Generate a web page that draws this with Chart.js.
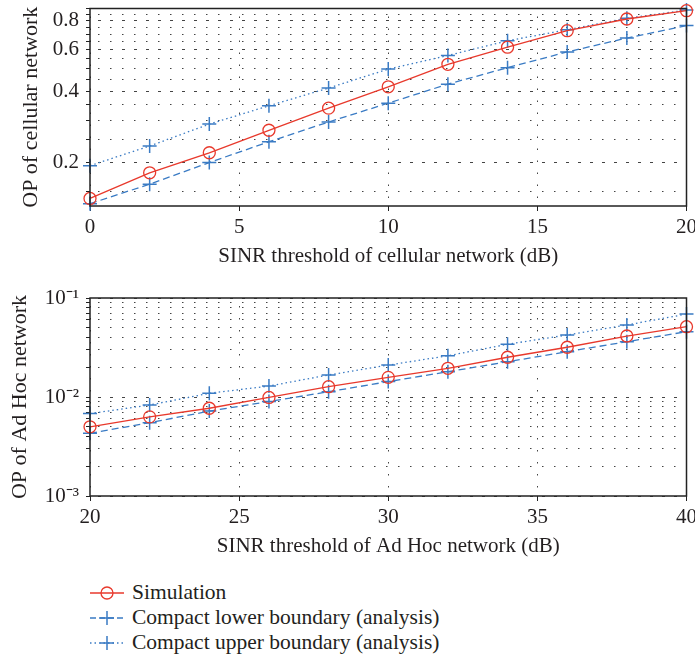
<!DOCTYPE html>
<html>
<head>
<meta charset="utf-8">
<script src="https://cdn.jsdelivr.net/npm/chart.js@4.4.1/dist/chart.umd.min.js"></script>
<style>
  body { margin: 0; background: #fff; width: 695px; height: 657px; position: relative; overflow: hidden; }
  canvas { position: absolute; left: 0; }
  #legend { position: absolute; left: 90px; top: 580px; font-family: "Liberation Serif", "DejaVu Serif", serif; font-size: 21.5px; color: #231f20; }
  .row { height: 25px; display: flex; align-items: center; }
  .row svg { margin-right: 8px; }
</style>
</head>
<body>
<canvas id="topChart"></canvas>
<canvas id="bottomChart"></canvas>
<div id="legend"></div>

<script>
// data
const cellX = [0, 2, 4, 6, 8, 10, 12, 14, 16, 18, 20];
const cellSim = [0.140, 0.180, 0.219, 0.273, 0.339, 0.418, 0.521, 0.616, 0.724, 0.812, 0.881];
const cellLower = [0.133, 0.161, 0.199, 0.244, 0.296, 0.356, 0.429, 0.504, 0.588, 0.674, 0.761];
const cellUpper = [0.193, 0.234, 0.290, 0.347, 0.413, 0.497, 0.568, 0.656, 0.731, 0.818, 0.886];

const adhocX = [20, 22, 24, 26, 28, 30, 32, 34, 36, 38, 40];
const adhocSim = [0.0050, 0.0063, 0.0077, 0.0099, 0.0127, 0.0158, 0.0195, 0.0252, 0.0318, 0.0413, 0.0513];
const adhocLower = [0.0043, 0.0055, 0.0072, 0.0090, 0.0113, 0.0143, 0.0180, 0.0227, 0.0287, 0.0362, 0.0457];
const adhocUpper = [0.0068, 0.0083, 0.0109, 0.0129, 0.0167, 0.0210, 0.0261, 0.0341, 0.0423, 0.0534, 0.0688];

const cellTicks = [0.15, 0.2, 0.25, 0.3, 0.35, 0.4, 0.45, 0.5, 0.55, 0.6, 0.65, 0.7, 0.75, 0.8, 0.85, 0.9];
const cellLabels = ['0.2', '0.4', '0.6', '0.8'];
const adhocTicks = [0.001, 0.002, 0.003, 0.004, 0.005, 0.006, 0.007, 0.008, 0.009,
                    0.01, 0.02, 0.03, 0.04, 0.05, 0.06, 0.07, 0.08, 0.09, 0.1];
const adhocLabels = { 0.001: '10\u207B\u00B3', 0.01: '10\u207B\u00B2', 0.1: '10\u207B\u00B9' };

const seriesNames = ['Simulation', 'Compact lower boundary (analysis)', 'Compact upper boundary (analysis)'];

const RED = '#e8392c';
const BLUE = '#3a7bc4';
const INK = '#231f20';
const GRID = '#444';
const FONT = 'Liberation Serif';

function datasets(xs, sim, lower, upper) {
  const pts = (ys) => xs.map((x, i) => ({ x: x, y: ys[i] }));
  return [
    { label: seriesNames[0], data: pts(sim), borderColor: RED, borderWidth: 1.3,
      pointStyle: 'circle', pointRadius: 6, pointBorderWidth: 1.3, pointBackgroundColor: 'rgba(0,0,0,0)',
      pointBorderColor: RED, clip: false, order: 0 },
    { label: seriesNames[1], data: pts(lower), borderColor: BLUE, borderWidth: 1.3, borderDash: [7, 4],
      pointStyle: 'cross', pointRadius: 7, pointBorderWidth: 1.5, pointBorderColor: BLUE, clip: false, order: 1 },
    { label: seriesNames[2], data: pts(upper), borderColor: BLUE, borderWidth: 1.3, borderDash: [1.5, 3],
      pointStyle: 'cross', pointRadius: 7, pointBorderWidth: 1.5, pointBorderColor: BLUE, clip: false, order: 2 }
  ];
}

// box round the plot area
const boxPlugin = {
  id: 'box',
  afterDraw(chart) {
    const a = chart.chartArea, ctx = chart.ctx;
    ctx.save();
    ctx.strokeStyle = '#222';
    ctx.lineWidth = 1.5;
    ctx.strokeRect(a.left, a.top, a.right - a.left, a.bottom - a.top);
    ctx.restore();
  }
};

function makeChart(id, top, height, padTop, opts) {
  const el = document.getElementById(id);
  el.style.top = top + 'px';
  el.style.width = '695px';
  el.style.height = height + 'px';
  return new Chart(el, {
    type: 'line',
    data: { datasets: datasets(opts.xs, opts.sim, opts.lower, opts.upper) },
    plugins: [boxPlugin],
    options: {
      responsive: false,
      animation: false,
      devicePixelRatio: 1,
      layout: { padding: { top: padTop, right: 8, left: 0, bottom: 0 } },
      plugins: { legend: { display: false }, tooltip: { enabled: false } },
      scales: {
        x: {
          type: 'linear', min: opts.xmin, max: opts.xmax,
          afterFit: (s) => { s.height = opts.xAxisH; s.paddingLeft = 0; s.paddingRight = 0; },
          ticks: { stepSize: 5, color: INK, font: { family: FONT, size: 21 }, padding: 4, maxRotation: 0 },
          grid: { color: GRID, lineWidth: 1, tickColor: '#222', tickLength: 5, tickBorderDash: [] },
          border: { display: false, dash: [1.5, 10.5], dashOffset: 4 },
          title: { display: true, text: opts.xTitle, color: INK, font: { family: FONT, size: 21 }, padding: { top: 0, bottom: 1 } }
        },
        y: {
          type: 'logarithmic', min: opts.ymin, max: opts.ymax,
          afterFit: (s) => { s.width = 90; s.paddingTop = 0; s.paddingBottom = 0; },
          afterBuildTicks: (s) => { s.ticks = opts.yTicks.map(v => ({ value: v })); },
          ticks: { color: INK, font: { family: FONT, size: 21 }, padding: 7, autoSkip: false,
                   callback: opts.yLabel },
          grid: { color: GRID, lineWidth: 1, tickColor: '#222', tickLength: 4, tickBorderDash: [] },
          border: { display: false,
                    dash: (ctx) => (ctx.tick && opts.yLabel(ctx.tick.value) !== '') ? [3, 9] : [1.5, 10.5],
                    dashOffset: 4 },
          title: { display: true, text: opts.yTitle, color: INK, font: { family: FONT, size: 22 }, padding: { top: opts.yTitlePad, bottom: 0 } }
        }
      }
    }
  });
}

Chart.defaults.font.family = FONT;

makeChart('topChart', 0, 270, 8, {
  xs: cellX, sim: cellSim, lower: cellLower, upper: cellUpper,
  xmin: 0, xmax: 20, ymin: 0.13, ymax: 0.9, xAxisH: 64,
  yTicks: cellTicks,
  yLabel: (v) => { const s = (Math.round(v * 100) / 100).toString(); return cellLabels.includes(s) ? s : ''; },
  xTitle: 'SINR threshold of cellular network (dB)',
  yTitle: 'OP of cellular network', yTitlePad: 18
});

makeChart('bottomChart', 270, 290, 28, {
  xs: adhocX, sim: adhocSim, lower: adhocLower, upper: adhocUpper,
  xmin: 20, xmax: 40, ymin: 0.001, ymax: 0.1, xAxisH: 64,
  yTicks: adhocTicks,
  yLabel: (v) => { for (const k in adhocLabels) { if (Math.abs(Math.log10(v) - Math.log10(+k)) < 1e-6) return adhocLabels[k]; } return ''; },
  xTitle: 'SINR threshold of Ad Hoc network (dB)',
  yTitle: 'OP of Ad Hoc network', yTitlePad: 7
});

// legend shared by both plots
const legendStyles = [
  { color: RED, dash: '', marker: 'circle' },
  { color: BLUE, dash: '6 3', marker: 'cross' },
  { color: BLUE, dash: '1.5 3', marker: 'cross' }
];
const legend = document.getElementById('legend');
seriesNames.forEach((name, i) => {
  const st = legendStyles[i];
  const mk = st.marker === 'circle'
    ? `<circle cx="17" cy="10" r="6" fill="none" stroke="${st.color}" stroke-width="1.3"/>`
    : `<path d="M10 10 H24 M17 3 V17" stroke="${st.color}" stroke-width="1.5"/>`;
  legend.insertAdjacentHTML('beforeend',
    `<div class="row"><svg width="34" height="20"><line x1="0" y1="10" x2="34" y2="10" stroke="${st.color}" stroke-width="1.3" stroke-dasharray="${st.dash}"/>${mk}</svg><span>${name}</span></div>`);
});
</script>
</body>
</html>
